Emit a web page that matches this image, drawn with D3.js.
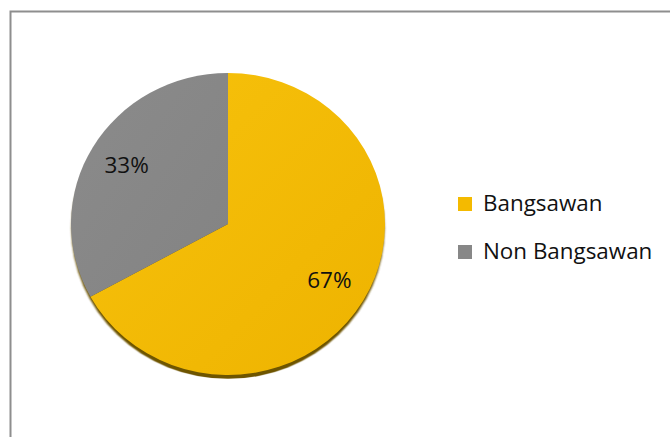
<!DOCTYPE html>
<html>
<head>
<meta charset="utf-8">
<script src="https://cdn.jsdelivr.net/npm/d3@7"></script>
<style>
  html, body { margin: 0; padding: 0; background: #fff; }
  svg { display: block; }
  text { font-family: "Open Sans", sans-serif; fill: #111; }
</style>
</head>
<body>
<svg id="chart" width="670" height="437"></svg>
<script>
// Share of respondents by lineage
const categories = ["Bangsawan", "Non Bangsawan"];
const values = [67, 33];
const labels = ["67%", "33%"];
const colors = ["#F4BA00", "#878787"];

const svg = d3.select("#chart");
const W = 670, H = 437;

// Chart frame (runs off the right and bottom of the view)
svg.append("rect")
  .attr("x", 10.5).attr("y", 11.5)
  .attr("width", W + 20).attr("height", H + 20)
  .attr("fill", "#fff")
  .attr("stroke", "#8e8e8e").attr("stroke-width", 2);

const defs = svg.append("defs");
const gY = defs.append("linearGradient").attr("id", "gY")
  .attr("x1", "0").attr("y1", "0").attr("x2", "1").attr("y2", "1");
gY.append("stop").attr("offset", "0").attr("stop-color", "#F7C20C");
gY.append("stop").attr("offset", "1").attr("stop-color", "#EEB300");
const gG = defs.append("linearGradient").attr("id", "gG")
  .attr("x1", "0").attr("y1", "0").attr("x2", "1").attr("y2", "1");
gG.append("stop").attr("offset", "0").attr("stop-color", "#8B8B8B");
gG.append("stop").attr("offset", "1").attr("stop-color", "#838383");
const fills = ["url(#gY)", "url(#gG)"];

const blur = defs.append("filter").attr("id", "soft")
  .attr("x", "-10%").attr("y", "-10%").attr("width", "120%").attr("height", "120%");
blur.append("feGaussianBlur").attr("stdDeviation", 0.8);

const cx = 228, cy = 224, rx = 157, ry = 151;
const r = rx;

const pie = d3.pie().sort(null).value(d => d);
const arcs = pie(values);
const arc = d3.arc().innerRadius(0).outerRadius(r);

// Slightly flattened disc
const g = svg.append("g")
  .attr("transform", `translate(${cx},${cy}) scale(1,${ry / rx})`);

// Bottom rim under the disc
g.append("circle")
  .attr("cx", 0).attr("cy", 4.5).attr("r", r - 0.5)
  .attr("fill", "#6E5400")
  .attr("filter", "url(#soft)");

g.selectAll("path.slice")
  .data(arcs)
  .join("path")
  .attr("class", "slice")
  .attr("d", arc)
  .attr("fill", (d, i) => fills[i]);

// Percentage labels
const labelArc = d3.arc().innerRadius(r * 0.75).outerRadius(r * 0.75);
svg.selectAll("text.pct")
  .data(arcs)
  .join("text")
  .attr("class", "pct")
  .attr("x", d => cx + labelArc.centroid(d)[0])
  .attr("y", d => cy + labelArc.centroid(d)[1] * ry / rx - 2)
  .attr("text-anchor", "middle")
  .attr("dominant-baseline", "central")
  .attr("font-size", 22.5)
  .text((d, i) => labels[i]);

// Legend
const legend = svg.append("g").attr("transform", "translate(458,0)");
const rowY = d3.scalePoint().domain(categories).range([211, 259]);
categories.forEach((c, i) => {
  legend.append("rect")
    .attr("x", 0).attr("y", rowY(c) - 14)
    .attr("width", 14).attr("height", 14)
    .attr("fill", colors[i]);
  legend.append("text")
    .attr("x", 25).attr("y", rowY(c))
    .attr("font-size", 22.4)
    .text(c);
});
</script>
</body>
</html>
